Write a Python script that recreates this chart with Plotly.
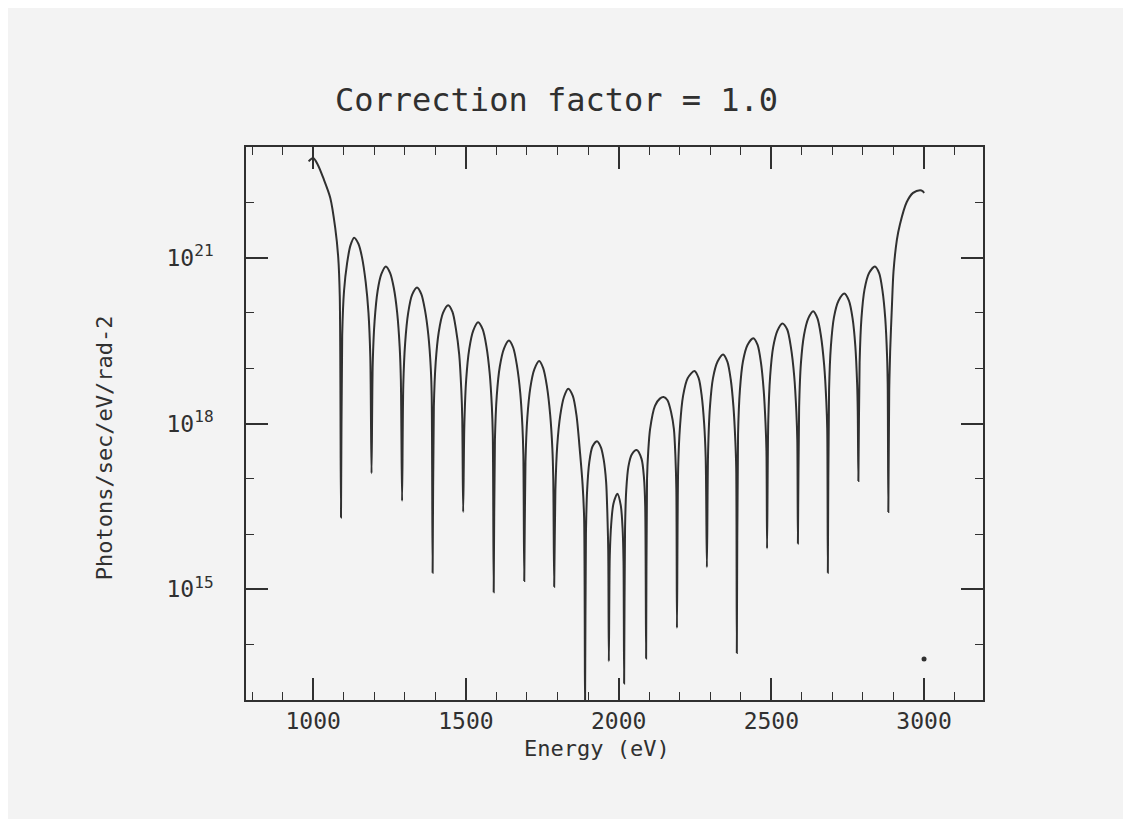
import plotly.graph_objects as go

energy_ev = [
    985, 1000, 1015, 1033, 1056, 1072, 1082, 1087, 1091,
    1095, 1101, 1111, 1122, 1134, 1148, 1160, 1172, 1181, 1187, 1191,
    1195, 1201, 1211, 1223, 1238, 1252, 1264, 1275, 1283, 1287, 1291,
    1295, 1301, 1311, 1324, 1340, 1354, 1366, 1377, 1385, 1388, 1391,
    1395, 1401, 1411, 1425, 1442, 1456, 1467, 1478, 1485, 1488, 1491,
    1495, 1501, 1511, 1524, 1540, 1555, 1567, 1578, 1585, 1588, 1591,
    1595, 1601, 1611, 1625, 1641, 1655, 1667, 1678, 1685, 1688, 1691,
    1695, 1701, 1711, 1724, 1740, 1753, 1765, 1776, 1783, 1786, 1789,
    1793, 1799, 1809, 1821, 1835, 1850, 1862, 1874, 1882, 1887, 1890,
    1893, 1897, 1904, 1914, 1929, 1942, 1951, 1959, 1963, 1966, 1968,
    1971, 1976, 1983, 1996, 2007, 2013, 2016, 2018,
    2021, 2025, 2032, 2043, 2059, 2075, 2083, 2087, 2090,
    2093, 2097, 2103, 2119, 2135, 2147, 2160, 2172, 2181, 2186, 2189, 2191,
    2195, 2201, 2211, 2226, 2248, 2262, 2272, 2280, 2285, 2289,
    2293, 2299, 2309, 2324, 2342, 2356, 2367, 2376, 2382, 2385, 2387,
    2391, 2397, 2407, 2422, 2441, 2455, 2466, 2475, 2481, 2484, 2486,
    2490, 2496, 2506, 2520, 2536, 2552, 2564, 2575, 2582, 2585, 2587,
    2591, 2597, 2607, 2621, 2637, 2651, 2662, 2673, 2680, 2683, 2685,
    2689, 2695, 2705, 2720, 2739, 2754, 2766, 2775, 2781, 2783, 2785,
    2789, 2795, 2805, 2820, 2839, 2853, 2864, 2873, 2879, 2881, 2883,
    2886, 2889, 2895, 2900, 2911, 2921, 2943, 2964, 2987, 2996, 3000,
]

# log10 of Photons/sec/eV/rad^2 at each energy above
log10_flux = [
    22.74, 22.80, 22.68, 22.44, 22.08, 21.54, 21.00, 20.30, 16.30,
    19.60, 20.40, 20.90, 21.22, 21.36, 21.25, 21.00, 20.55, 20.00, 19.20, 17.10,
    19.10, 19.85, 20.40, 20.70, 20.84, 20.72, 20.45, 20.00, 19.40, 18.80, 16.60,
    18.70, 19.45, 20.00, 20.33, 20.46, 20.34, 20.05, 19.60, 19.00, 18.50, 15.30,
    18.30, 19.10, 19.65, 20.00, 20.14, 20.02, 19.72, 19.25, 18.60, 18.10, 16.40,
    18.00, 18.80, 19.35, 19.68, 19.83, 19.70, 19.40, 18.90, 18.30, 17.80, 14.95,
    17.70, 18.50, 19.03, 19.36, 19.50, 19.37, 19.05, 18.55, 17.95, 17.45, 15.15,
    17.30, 18.10, 18.65, 18.98, 19.13, 19.00, 18.68, 18.15, 17.55, 17.00, 15.05,
    16.80, 17.60, 18.15, 18.48, 18.63, 18.50, 18.15, 17.45, 16.90, 16.30, 12.80,
    16.00, 16.80, 17.30, 17.58, 17.68, 17.57, 17.35, 16.95, 16.40, 15.70, 13.70,
    15.60, 16.20, 16.55, 16.73, 16.52, 16.10, 15.50, 13.30,
    16.10, 16.80, 17.22, 17.44, 17.52, 17.36, 17.02, 16.50, 13.75,
    17.00, 17.50, 17.90, 18.32, 18.45, 18.48, 18.42, 18.20, 17.90, 17.40, 16.80, 14.30,
    17.20, 17.95, 18.50, 18.82, 18.95, 18.82, 18.50, 18.00, 17.40, 15.40,
    17.50, 18.30, 18.82, 19.12, 19.25, 19.12, 18.80, 18.30, 17.70, 17.20, 13.85,
    17.80, 18.60, 19.12, 19.42, 19.54, 19.42, 19.10, 18.60, 18.00, 17.50, 15.74,
    18.05, 18.85, 19.38, 19.68, 19.81, 19.70, 19.38, 18.85, 18.20, 17.70, 15.83,
    18.30, 19.10, 19.60, 19.90, 20.03, 19.90, 19.60, 19.05, 18.40, 17.90, 15.30,
    18.60, 19.40, 19.92, 20.22, 20.35, 20.22, 19.90, 19.40, 18.70, 18.20, 16.96,
    19.10, 19.90, 20.42, 20.72, 20.84, 20.72, 20.40, 19.90, 19.20, 18.70, 16.40,
    18.60, 19.30, 20.15, 20.75, 21.32, 21.60, 22.00, 22.17, 22.22, 22.20, 22.17,
]

# stray plotted dot near the lower right
dot_energy_ev = [3000]
dot_log10_flux = [13.74]

x_tick_values = [1000, 1500, 2000, 2500, 3000]
x_tick_labels = ["1000", "1500", "2000", "2500", "3000"]
y_tick_exponents = [15, 18, 21]
y_tick_labels = ["10<sup>15</sup>", "10<sup>18</sup>", "10<sup>21</sup>"]
y_minor_exponents = list(range(13, 24))

title_text = "Correction factor = 1.0"
x_title = "Energy (eV)"
y_title = "Photons/sec/eV/rad-2"

flux = [10.0 ** v for v in log10_flux]
dot_flux = [10.0 ** v for v in dot_log10_flux]

INK = "#303030"
BG = "#f3f3f3"
FONT = "DejaVu Sans Mono"

fig = go.Figure()
fig.add_trace(go.Scatter(
    x=energy_ev, y=flux, mode="lines",
    line=dict(color=INK, width=2, shape="spline", smoothing=0.8),
    hoverinfo="skip",
))
fig.add_trace(go.Scatter(
    x=dot_energy_ev, y=dot_flux, mode="markers",
    marker=dict(color=INK, size=5), hoverinfo="skip",
))

fig.update_layout(
    width=1131, height=819,
    margin=dict(l=238, r=156, t=139, b=127),
    paper_bgcolor=BG, plot_bgcolor=BG,
    showlegend=False,
    font=dict(family=FONT, color=INK),
)

fig.update_xaxes(
    range=[780, 3193],
    tickmode="array", tickvals=x_tick_values, ticktext=x_tick_labels,
    ticks="inside", ticklen=22, tickwidth=1.5, tickcolor=INK,
    showline=True, linecolor=INK, linewidth=1.6, mirror="ticks",
    showgrid=False, zeroline=False,
    tickfont=dict(family=FONT, size=23, color=INK),
    ticklabelstandoff=0,
    minor=dict(dtick=100, tick0=0, ticks="inside", ticklen=8,
               tickwidth=1.3, tickcolor=INK, showgrid=False),
)

fig.update_yaxes(
    type="log", range=[13, 23],
    tickmode="array",
    tickvals=[10.0 ** e for e in y_tick_exponents], ticktext=y_tick_labels,
    ticks="inside", ticklen=22, tickwidth=1.5, tickcolor=INK,
    showline=True, linecolor=INK, linewidth=1.6, mirror="ticks",
    showgrid=False, zeroline=False,
    tickfont=dict(family=FONT, size=23, color=INK),
    ticklabelstandoff=26,
    minor=dict(tickvals=[10.0 ** e for e in y_minor_exponents], ticks="inside",
               ticklen=8, tickwidth=1.3, tickcolor=INK, showgrid=False),
)

fig.add_annotation(
    text=title_text, xref="paper", yref="paper", x=0.421, y=1.085,
    xanchor="center", yanchor="middle", showarrow=False,
    font=dict(family=FONT, size=32, color=INK),
)
fig.add_annotation(
    text=x_title, xref="paper", yref="paper", x=0.476, y=-0.088,
    xanchor="center", yanchor="middle", showarrow=False,
    font=dict(family=FONT, size=22, color=INK),
)
fig.add_annotation(
    text=y_title, xref="paper", yref="paper", x=-0.192, y=0.456,
    xanchor="center", yanchor="middle", showarrow=False, textangle=-90,
    font=dict(family=FONT, size=22, color=INK),
)

fig.write_html("out.html")
